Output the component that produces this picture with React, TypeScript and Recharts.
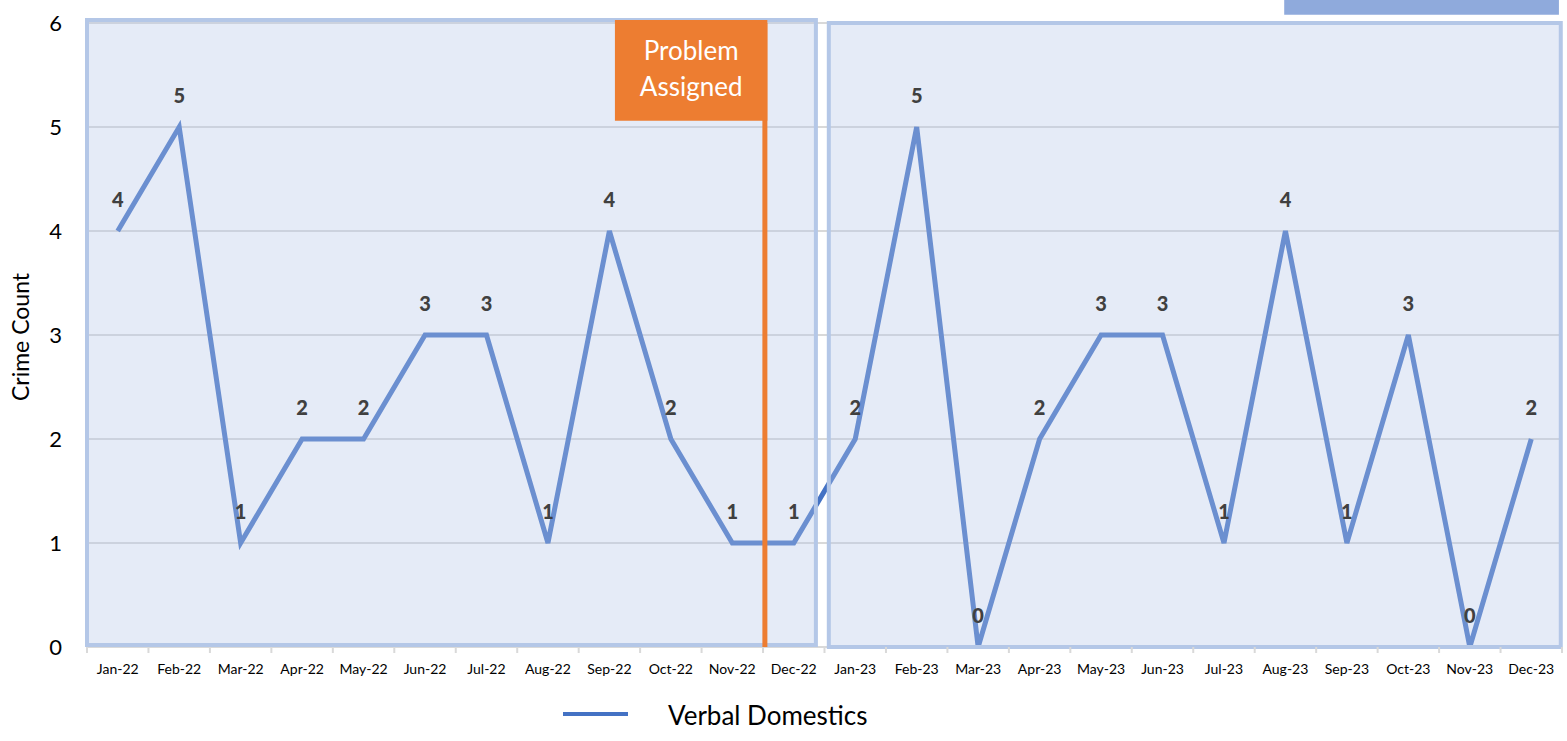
import React from 'react';
import {
  LineChart, Line, XAxis, YAxis, CartesianGrid, ReferenceArea, ReferenceLine, LabelList, Legend,
} from 'recharts';

const months = [
  'Jan-22', 'Feb-22', 'Mar-22', 'Apr-22', 'May-22', 'Jun-22', 'Jul-22', 'Aug-22', 'Sep-22', 'Oct-22', 'Nov-22', 'Dec-22',
  'Jan-23', 'Feb-23', 'Mar-23', 'Apr-23', 'May-23', 'Jun-23', 'Jul-23', 'Aug-23', 'Sep-23', 'Oct-23', 'Nov-23', 'Dec-23',
];
const verbalDomestics = [4, 5, 1, 2, 2, 3, 3, 1, 4, 2, 1, 1, 2, 5, 0, 2, 3, 3, 1, 4, 1, 3, 0, 2];
const yTicks = [0, 1, 2, 3, 4, 5, 6];

const data = months.map((m, i) => ({ month: m, value: verbalDomestics[i] }));

const FONT = 'Lato, "Open Sans", sans-serif';
const LINE = '#4472C4';
const BOX_FILL = '#B4C7E7';
const ORANGE = '#ED7D31';

const XTick = (props: any) => {
  const { x, y, payload, index, width } = props;
  const bw = (width || 1475) / months.length;
  return (
    <g>
      <line x1={x - bw / 2} x2={x - bw / 2} y1={y} y2={y + 6} stroke="#D9D9D9" strokeWidth={2} />
      {index === months.length - 1 && (
        <line x1={x + bw / 2} x2={x + bw / 2} y1={y} y2={y + 6} stroke="#D9D9D9" strokeWidth={2} />
      )}
      <text x={x} y={y + 27} textAnchor="middle" fontSize={14} fill="#000" fontFamily={FONT}>
        {payload.value}
      </text>
    </g>
  );
};

const ProblemLabel = (props: any) => {
  const vb = props.viewBox || {};
  const cx = vb.x + vb.width / 2;
  const cy = vb.y + vb.height / 2;
  return (
    <g>
      <text x={cx} y={cy - 10} textAnchor="middle" fontSize={26} fill="#fff" fontFamily={FONT}>Problem</text>
      <text x={cx} y={cy + 26} textAnchor="middle" fontSize={26} fill="#fff" fontFamily={FONT}>Assigned</text>
    </g>
  );
};

const LegendContent = () => (
  <div style={{ height: 44, display: 'flex', alignItems: 'center', fontFamily: FONT }}>
    <svg width={1567} height={44}>
      <line x1={563} x2={628} y1={20} y2={20} stroke={LINE} strokeWidth={4} />
      <text x={668} y={31} fontSize={26} fill="#000" fontFamily={FONT}>Verbal Domestics</text>
    </svg>
  </div>
);

export default function App() {
  return (
    <div style={{ position: 'absolute', left: 0, top: 0, background: '#fff' }}>
      <LineChart width={1567} height={741} data={data} margin={{ top: 23, right: 5, left: 0, bottom: 20 }}>
        <CartesianGrid vertical={false} stroke="#D9D9D9" strokeWidth={2} />
        <XAxis
          dataKey="month"
          scale="band"
          tick={<XTick />}
          tickLine={false}
          tickSize={0}
          tickMargin={0}
          height={30}
          axisLine={{ stroke: '#D9D9D9', strokeWidth: 2 }}
          interval={0}
        />
        <XAxis xAxisId="num" type="number" dataKey="slot" domain={[0, 24]} ticks={[0, 12, 24]} hide allowDataOverflow />
        <YAxis
          domain={[0, 6]}
          ticks={yTicks}
          width={87}
          axisLine={false}
          tickLine={false}
          tickSize={0}
          tickMargin={25}
          tick={{ fontSize: 22, fill: '#000', fontFamily: FONT }}
          label={{ value: 'Crime Count', angle: -90, position: 'insideLeft', dx: 16, dy: 66, style: { fontSize: 23, fill: '#000', fontFamily: FONT } }}
        />
        <Line
          type="linear"
          dataKey="value"
          stroke={LINE}
          strokeWidth={5}
          dot={false}
          isAnimationActive={false}
          legendType="line"
          name="Verbal Domestics"
        >
          <LabelList dataKey="value" position="top" offset={24} style={{ fontSize: 20, fontWeight: 900, fill: '#404040', fontFamily: FONT }} />
        </Line>
        <ReferenceArea
          xAxisId="num" x1={0} x2={11.86} y1={0.02} y2={6.03}
          fill={BOX_FILL} fillOpacity={0.35} stroke={BOX_FILL} strokeWidth={4}
          ifOverflow="visible" zIndex={1500}
        />
        <ReferenceArea
          xAxisId="num" x1={12.07} x2={23.98} y1={0} y2={6}
          fill={BOX_FILL} fillOpacity={0.35} stroke={BOX_FILL} strokeWidth={4}
          ifOverflow="visible" zIndex={1500}
        />
        <ReferenceArea
          xAxisId="num" x1={19.48} x2={23.95} y1={6.08} y2={6.22}
          fill="#8FAADC" fillOpacity={1} stroke="none"
          ifOverflow="visible" zIndex={1600}
        />
        <ReferenceLine
          xAxisId="num" x={11.03} stroke={ORANGE} strokeWidth={5}
          ifOverflow="visible" zIndex={1700}
        />
        <ReferenceArea
          xAxisId="num" x1={8.59} x2={11.07} y1={5.06} y2={6.03}
          fill={ORANGE} fillOpacity={1} stroke="none"
          ifOverflow="visible" zIndex={1700}
          label={<ProblemLabel />}
        />
        <Legend
          verticalAlign="bottom"
          content={<LegendContent />}
          wrapperStyle={{ position: 'absolute', left: 0, top: 694, width: 1567, height: 44 }}
        />
      </LineChart>
    </div>
  );
}
